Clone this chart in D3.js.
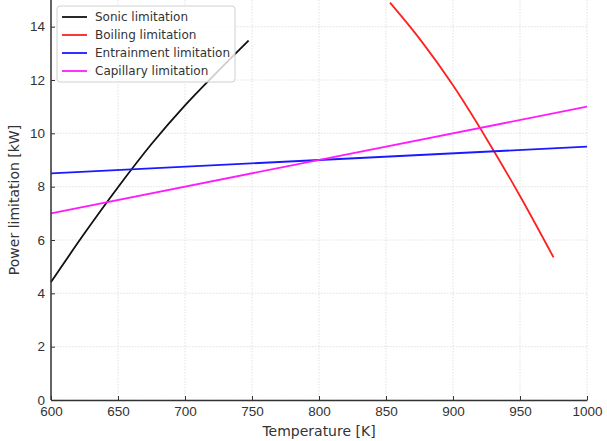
<!DOCTYPE html>
<html>
<head>
<meta charset="utf-8">
<script src="https://cdn.jsdelivr.net/npm/d3@7"></script>
<style>
    body { margin: 0; background: #fff; }
    svg { font-family: "DejaVu Sans", sans-serif; }
    .grid line { stroke: #d9d9d9; stroke-width: 0.8px; stroke-dasharray: 1.5,1.5; }
    .axis text { fill: #333; font-size: 13.5px; }
    .axis .domain, .axis .tick line { stroke: #333; }
</style>
</head>
<body>
<div id="chart"></div>
<script>
//// DATOS ////
let sonicT = [600, 625, 650, 675, 700, 725, 747.5];
let sonicP = [4.42, 6.25, 7.98, 9.6, 11.05, 12.35, 13.48];

let boilingT = [853, 875, 900, 925, 950, 975];
let boilingP = [14.9, 13.55, 11.8, 9.8, 7.65, 5.35];

let entrainmentT = [600, 1000];
let entrainmentP = [8.5, 9.5];

let capillaryT = [600, 1000];
let capillaryP = [7.0, 11.0];

let seriesNames = ['Sonic limitation', 'Boiling limitation', 'Entrainment limitation', 'Capillary limitation'];
let seriesColors = ['#111111', '#ff2020', '#1a1aff', '#ff1aff'];

let xTicks = [600, 650, 700, 750, 800, 850, 900, 950, 1000];
let yTicks = [0, 2, 4, 6, 8, 10, 12, 14];

//// GRÁFICO ////
let margin = {top: 0, right: 20, bottom: 41, left: 51};
let totalW = 607, totalH = 441;
let width = totalW - margin.left - margin.right,
    height = totalH - margin.top - margin.bottom;

let svg = d3.select('#chart').append('svg')
    .attr('width', totalW)
    .attr('height', totalH);

let chart = svg.append('g')
    .attr('transform', 'translate(' + margin.left + ',' + margin.top + ')');

let x = d3.scaleLinear().domain([600, 1000]).range([0, width]);
let y = d3.scaleLinear().domain([0, 15]).range([height, 0]);

//Rejilla
chart.append('g').attr('class', 'grid')
    .selectAll('line.v').data(xTicks).join('line')
    .attr('x1', d => x(d)).attr('x2', d => x(d))
    .attr('y1', 0).attr('y2', height);
chart.append('g').attr('class', 'grid')
    .selectAll('line.h').data(yTicks).join('line')
    .attr('x1', 0).attr('x2', width)
    .attr('y1', d => y(d)).attr('y2', d => y(d));

//Series
let series = [
    {t: sonicT, p: sonicP},
    {t: boilingT, p: boilingP},
    {t: entrainmentT, p: entrainmentP},
    {t: capillaryT, p: capillaryP}
];

let line = d3.line()
    .x(d => x(d[0]))
    .y(d => y(d[1]))
    .curve(d3.curveMonotoneX);

series.forEach(function(s, i) {
    chart.append('path')
        .datum(s.t.map((t, j) => [t, s.p[j]]))
        .attr('fill', 'none')
        .attr('stroke', seriesColors[i])
        .attr('stroke-width', 1.8)
        .attr('d', line);
});

//Ejes
let xAxis = chart.append('g')
    .attr('class', 'axis')
    .attr('transform', 'translate(0,' + height + ')')
    .call(d3.axisBottom(x).tickValues(xTicks).tickFormat(d3.format('d'))
        .tickSizeInner(-4).tickSizeOuter(0).tickPadding(6));
xAxis.select('.domain').attr('stroke-width', 1.5);

let yAxis = chart.append('g')
    .attr('class', 'axis')
    .call(d3.axisLeft(y).tickValues(yTicks).tickSizeInner(-4).tickSizeOuter(0).tickPadding(6));
yAxis.select('.domain').attr('stroke-width', 1.5).attr('d', 'M0,' + height + 'V0');

svg.append('text')
    .attr('x', margin.left + width / 2)
    .attr('y', 436)
    .attr('text-anchor', 'middle')
    .attr('fill', '#333')
    .attr('font-size', 14)
    .text('Temperature [K]');

svg.append('text')
    .attr('transform', 'translate(19,' + (height / 2) + ') rotate(-90)')
    .attr('text-anchor', 'middle')
    .attr('fill', '#333')
    .attr('font-size', 14)
    .text('Power limitation [kW]');

//Leyenda
let legend = svg.append('g').attr('transform', 'translate(57,6)');
legend.append('rect')
    .attr('width', 178).attr('height', 76)
    .attr('rx', 3)
    .attr('fill', 'rgba(255,255,255,0.8)')
    .attr('stroke', '#d0d0d0');

seriesNames.forEach(function(name, i) {
    let g = legend.append('g').attr('transform', 'translate(0,' + (11 + i * 18) + ')');
    g.append('line')
        .attr('x1', 5).attr('x2', 30)
        .attr('stroke', seriesColors[i]).attr('stroke-width', 1.8);
    g.append('text')
        .attr('x', 38).attr('dy', '0.35em')
        .attr('fill', '#333')
        .attr('font-size', 12)
        .text(name);
});
</script>
</body>
</html>
